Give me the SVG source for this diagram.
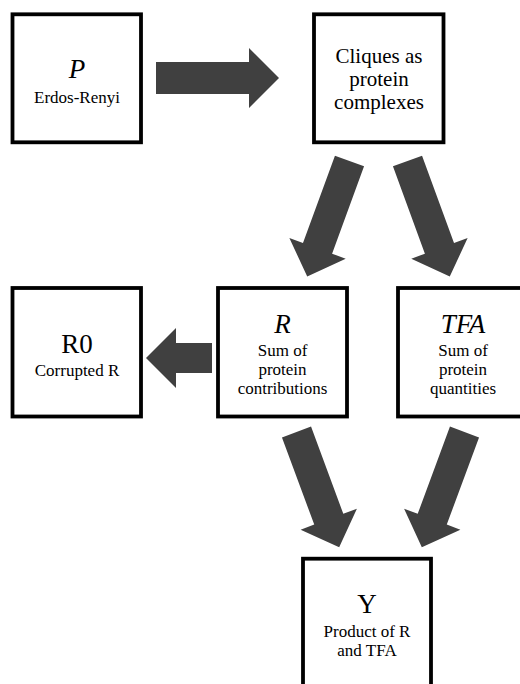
<svg xmlns="http://www.w3.org/2000/svg" width="520" height="684" viewBox="0 0 520 684">
<style>
.box{fill:#fff;stroke:#000;stroke-width:3.8}
.arr{fill:#404040;stroke:none}
.t{font-family:"Liberation Serif","DejaVu Serif",serif;fill:#000;text-anchor:middle}
.big{font-size:27px}
.it{font-style:italic}
.sm{font-size:17px}
.md{font-size:21px}
</style>
<defs>
<path id="darr" d="M0,-15.5 H93 V-30 L123,0 L93,30 V15.5 H0 Z"/>
</defs>
<rect width="520" height="684" fill="#fff"/>
<g id="connectors">
<path class="arr" d="M156,62 H249 V48 L279,78 L249,108 V94 H156 Z"/>
<path class="arr" d="M212,343 H176 V328 L146,358 L176,388 V373 H212 Z"/>
<use href="#darr" class="arr" transform="translate(349.5,161) rotate(110.1)"/>
<use href="#darr" class="arr" transform="translate(407.5,161) rotate(69.9)"/>
<use href="#darr" class="arr" transform="translate(296.5,432) rotate(69.7)"/>
<use href="#darr" class="arr" transform="translate(464.5,432) rotate(110.3)"/>
</g>
<g id="node-P" font-family="Liberation Serif, DejaVu Serif, serif">
<rect class="box" x="12.5" y="14.3" width="128.5" height="128"/>
<text class="t big it" x="77" y="78">P</text>
<text class="t sm" x="77" y="103">Erdos-Renyi</text>
</g>
<g id="node-cliques" font-family="Liberation Serif, DejaVu Serif, serif">
<rect class="box" x="314" y="14.3" width="129.5" height="128"/>
<text class="t md" x="379" y="63">Cliques as</text>
<text class="t md" x="379" y="86">protein</text>
<text class="t md" x="379" y="108.5">complexes</text>
</g>
<g id="node-R0" font-family="Liberation Serif, DejaVu Serif, serif">
<rect class="box" x="12.5" y="288" width="128.5" height="128.5"/>
<text class="t big" x="77" y="353">R0</text>
<text class="t sm" x="77" y="376">Corrupted R</text>
</g>
<g id="node-R" font-family="Liberation Serif, DejaVu Serif, serif">
<rect class="box" x="218" y="288" width="129" height="128.5"/>
<text class="t big it" x="282.5" y="333">R</text>
<text class="t sm" x="282.5" y="355.5">Sum of</text>
<text class="t sm" x="282.5" y="374.5">protein</text>
<text class="t sm" x="282.5" y="393.5">contributions</text>
</g>
<g id="node-TFA" font-family="Liberation Serif, DejaVu Serif, serif">
<rect class="box" x="398" y="288" width="130" height="128.5"/>
<text class="t big it" x="463" y="333">TFA</text>
<text class="t sm" x="463" y="355.5">Sum of</text>
<text class="t sm" x="463" y="374.5">protein</text>
<text class="t sm" x="463" y="393.5">quantities</text>
</g>
<g id="node-Y" font-family="Liberation Serif, DejaVu Serif, serif">
<rect class="box" x="303" y="558.7" width="128" height="128"/>
<text class="t big" x="367" y="613">Y</text>
<text class="t sm" x="367" y="636.5">Product of R</text>
<text class="t sm" x="367" y="655.5">and TFA</text>
</g>
</svg>
